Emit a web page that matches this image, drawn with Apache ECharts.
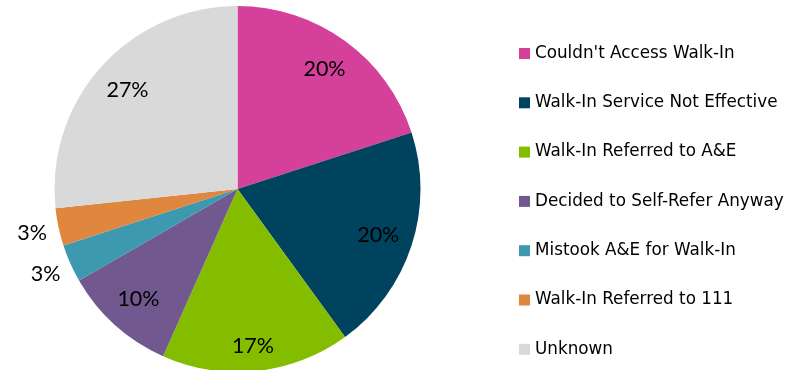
<!DOCTYPE html>
<html>
<head>
<meta charset="utf-8">
<script src="https://cdn.jsdelivr.net/npm/echarts@6/dist/echarts.min.js"></script>
<style>
  html, body { margin: 0; padding: 0; background: #ffffff; }
  #chart { width: 795px; height: 370px; }
</style>
</head>
<body>
<div id="chart"></div>
<script>
// Reasons given for attending A&E
const categories = [
  "Couldn't Access Walk-In",
  "Walk-In Service Not Effective",
  "Walk-In Referred to A&E",
  "Decided to Self-Refer Anyway",
  "Mistook A&E for Walk-In",
  "Walk-In Referred to 111",
  "Unknown"
];
const counts = [6, 6, 5, 3, 1, 1, 8];
const colors = ["#D5409A", "#00435F", "#84BC00", "#71588F", "#3D99B0", "#DF863F", "#D9D9D9"];

const total = counts.reduce((a, b) => a + b, 0);
const CENTER = [237.5, 189];
const R = 183;
const SMALL_SHARE = 0.05; // slices below this share get their label outside the rim

const pieData = categories.map((name, i) => ({
  name: name,
  value: counts[i],
  itemStyle: { color: colors[i] }
}));

const labelFont = {
  fontFamily: 'Lato, "Open Sans", sans-serif',
  fontSize: 21.5,
  color: '#000000'
};

// Transparent rings carry the percentage labels so they sit at the right distance
function labelRing(radius, showSmall) {
  return {
    type: 'pie',
    center: CENTER,
    radius: radius,
    startAngle: 90,
    clockwise: true,
    silent: true,
    animation: false,
    percentPrecision: 0,
    avoidLabelOverlap: false,
    labelLine: { show: false },
    emphasis: { disabled: true },
    data: categories.map((name, i) => {
      const small = counts[i] / total < SMALL_SHARE;
      const item = {
        name: name,
        value: counts[i],
        itemStyle: { color: 'rgba(0,0,0,0)' },
        label: {
          show: showSmall ? small : !small,
          position: 'inside',
          formatter: '{d}%',
          ...labelFont
        }
      };
      if (name === "Walk-In Referred to A&E") item.label.offset = [0, 10];
      return item;
    })
  };
}

const chart = echarts.init(document.getElementById('chart'), null, { renderer: 'canvas' });
chart.setOption({
  backgroundColor: '#ffffff',
  animation: false,
  color: colors,
  legend: {
    orient: 'vertical',
    left: 514,
    top: 40,
    itemWidth: 11,
    itemHeight: 11,
    itemGap: 32.3,
    icon: 'rect',
    selectedMode: false,
    data: categories,
    textStyle: {
      fontFamily: '"DejaVu Sans", Verdana, sans-serif',
      fontSize: 16.8,
      color: '#000000'
    }
  },
  series: [
    {
      type: 'pie',
      center: CENTER,
      radius: R,
      startAngle: 90,
      clockwise: true,
      silent: true,
      animation: false,
      label: { show: false },
      labelLine: { show: false },
      emphasis: { disabled: true },
      itemStyle: { borderWidth: 0 },
      data: pieData
    },
    labelRing([107, R], false),
    labelRing([R, 231], true)
  ]
});
</script>
</body>
</html>
